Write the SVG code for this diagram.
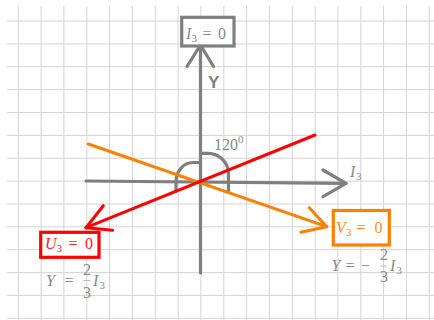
<svg xmlns="http://www.w3.org/2000/svg" width="434" height="320" viewBox="0 0 434 320">
<style>
.grid{stroke:#d4d4d4;stroke-width:1;fill:none}
.ax{stroke:#7f7f7f;stroke-width:3.2;fill:none;stroke-linecap:round;stroke-linejoin:round}
.red{stroke:#ff0000;stroke-width:3;fill:none;stroke-linecap:round;stroke-linejoin:round}
.org{stroke:#ff8000;stroke-width:3;fill:none;stroke-linecap:round;stroke-linejoin:round}
.box{fill:#ffffff;stroke-width:3.2}
.t{font-family:"Liberation Serif","DejaVu Serif",serif;font-size:16px}
.it{font-style:italic}
.sub{font-size:11px}
.g{fill:#8a8a8a}
.tr{fill:#ff2020}
.to{fill:#ff8a1a}
</style>
<rect width="434" height="320" fill="#ffffff"/>
<path class="grid" d="M18.3,6V320M41.1,6V320M63.9,6V320M86.8,6V320M109.6,6V320M132.4,6V320M155.3,6V320M178.1,6V320M200.9,6V320M223.8,6V320M246.6,6V320M269.4,6V320M292.3,6V320M315.1,6V320M337.9,6V320M360.8,6V320M383.6,6V320M406.4,6V320M429.2,6V320M7,21H434M7,43.9H434M7,66.7H434M7,89.6H434M7,112.5H434M7,135.4H434M7,158.2H434M7,181.1H434M7,204H434M7,226.8H434M7,249.7H434M7,272.6H434M7,295.4H434M7,318.3H434"/>
<g id="angle">
<path class="ax" d="M200.5,153.3H208A20.5,20.5 0 0 1 228.5,173.8V191.5"/>
<path class="ax" d="M200.5,162.5H193A17,19 0 0 0 176,181.5V191.5"/>
<text class="t g" x="214" y="150">120<tspan class="sub" dy="-7">0</tspan></text>
</g>
<g id="connectors">
<g id="y-axis"><path class="ax" d="M200.5,273V46"/><path class="ax" d="M187,66.5L200.5,45L213.5,66.5"/></g>
<g id="x-axis"><path class="ax" d="M86,181L346,183.3"/><path class="ax" d="M323,170L346,183.3L323,196.7"/></g>
<g id="v-line"><path class="org" d="M88.3,144L326.7,226.7"/><path class="org" d="M309.3,207.7L326.7,226.7L301,232.3"/></g>
<g id="u-line"><path class="red" d="M315,135L86,227.7"/><path class="red" d="M103.3,205.7L86,227.7L112.7,230.3"/></g>
</g>
<g id="node-I3">
<rect class="box" x="181.7" y="17.3" width="52.3" height="28.7" stroke="#7f7f7f"/>
<text class="t g"><tspan class="it" x="186" y="39">I</tspan><tspan class="sub" x="191.5" y="42">3</tspan><tspan x="202.5" y="39">=</tspan><tspan x="218" y="39">0</tspan></text>
</g>
<g id="label-Y"><text x="208" y="88" font-family="'Liberation Sans',Arial,sans-serif" font-size="17" font-weight="bold" fill="#7f7f7f">Y</text></g>
<g id="label-I3"><text class="t g"><tspan class="it" x="350" y="177">I</tspan><tspan class="sub" x="356" y="180">3</tspan></text></g>
<g id="node-U3">
<rect class="box" x="40.7" y="232.3" width="58.3" height="25" stroke="#ff0000"/>
<text class="t tr"><tspan class="it" x="45" y="249.3">U</tspan><tspan class="sub" x="56.5" y="252">3</tspan><tspan x="68.5" y="249.3">=</tspan><tspan x="85" y="249.3">0</tspan></text>
</g>
<g id="node-V3">
<rect class="box" x="333.3" y="210.5" width="56" height="34.5" stroke="#ff8000"/>
<text class="t to"><tspan class="it" x="336" y="233.3">V</tspan><tspan class="sub" x="346" y="236">3</tspan><tspan x="356.5" y="233.3">=</tspan><tspan x="374.5" y="233.3">0</tspan></text>
</g>
<g id="eq-left">
<text class="t g"><tspan class="it" x="46" y="286">Y</tspan><tspan x="64.5" y="286">=</tspan><tspan x="83" y="275">2</tspan><tspan x="83" y="298">3</tspan><tspan class="it" x="93" y="286">I</tspan><tspan class="sub" x="99.5" y="289">3</tspan></text>
<path d="M83,280.5H90.5" stroke="#b0b0b0" stroke-width="0.8"/>
</g>
<g id="eq-right">
<text class="t g"><tspan class="it" x="331.5" y="271">Y</tspan><tspan x="345.5" y="271">=</tspan><tspan x="361" y="271">−</tspan><tspan x="380" y="260">2</tspan><tspan x="380" y="282">3</tspan><tspan class="it" x="390" y="271">I</tspan><tspan class="sub" x="396.5" y="274">3</tspan></text>
<path d="M380,266H387.5" stroke="#b0b0b0" stroke-width="0.8"/>
</g>
</svg>
